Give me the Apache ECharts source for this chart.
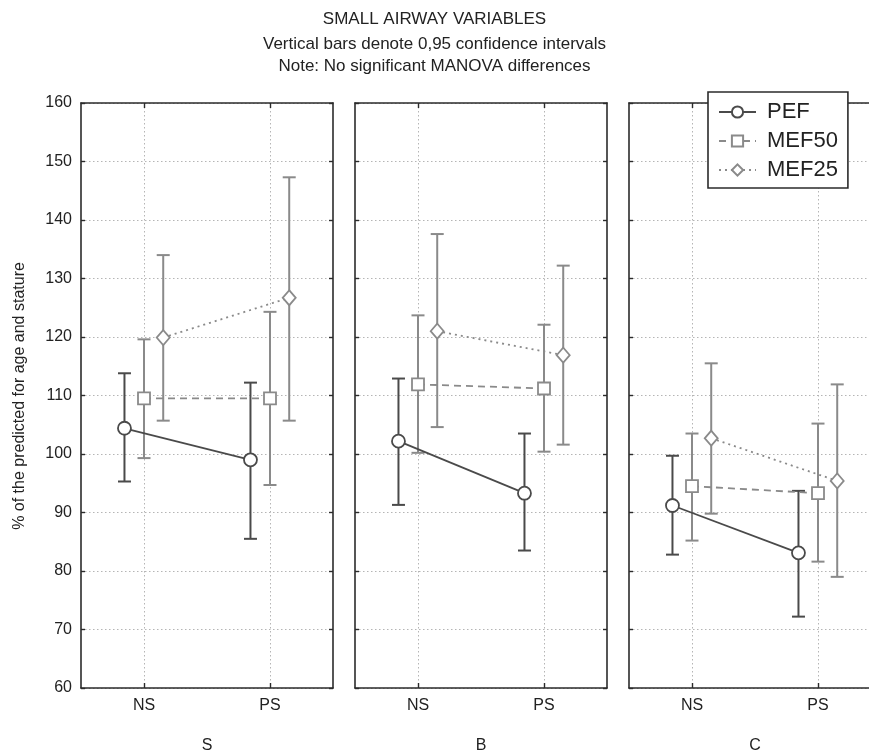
<!DOCTYPE html>
<html><head><meta charset="utf-8">
<script src="https://cdn.jsdelivr.net/npm/echarts@6/dist/echarts.min.js"></script>
<style>html,body{margin:0;padding:0;background:#fff;overflow:hidden}#c{width:869px;height:755px}</style>
</head><body><div id="c"></div>
<script>
// ---- data ----
const groups = ['S', 'B', 'C'];
const categories = ['NS', 'PS'];
const measures = ['PEF', 'MEF50', 'MEF25'];
const titleLines = ['SMALL AIRWAY VARIABLES', 'Vertical bars denote 0,95 confidence intervals', 'Note: No significant MANOVA differences'];
const yName = '% of the predicted for age and stature';
const yMin = 60, yMax = 160, yStep = 10;

// [group][category]
const pefMean  = [[104.4, 99.0], [102.2, 93.3], [91.2, 83.1]];
const pefLow   = [[95.3, 85.5], [91.3, 83.5], [82.8, 72.2]];
const pefHigh  = [[113.8, 112.2], [112.9, 103.5], [99.7, 93.7]];

const mef50Mean = [[109.5, 109.5], [111.9, 111.2], [94.5, 93.3]];
const mef50Low  = [[99.3, 94.7], [100.2, 100.4], [85.2, 81.6]];
const mef50High = [[119.6, 124.3], [123.7, 122.1], [103.5, 105.2]];

const mef25Mean = [[119.9, 126.7], [121.0, 116.9], [102.7, 95.4]];
const mef25Low  = [[105.7, 105.7], [104.6, 101.6], [89.8, 79.0]];
const mef25High = [[134.0, 147.3], [137.6, 132.2], [115.5, 111.9]];

// ---- styling / layout ----
const FONT = 'Liberation Sans';
const gridLefts = [81, 355, 629];
const gridWidth = 252;
const gridTop = 103, gridHeight = 585;
const catPos = [1, 3];               // positions of NS / PS on the 0..4 data axis
const offsets = [-0.31, 0, 0.305];   // horizontal dodge per measure
const dark = '#4a4a4a', grey = '#8a8a8a';
const measureStyle = [
  {symbol: 'circle', size: 13, color: dark, line: 'solid'},
  {symbol: 'rect', size: 12, color: grey, line: [7, 5]},
  {symbol: 'diamond', size: [13, 15], color: grey, line: [2, 4]}
];
const means = [pefMean, mef50Mean, mef25Mean];
const lows = [pefLow, mef50Low, mef25Low];
const highs = [pefHigh, mef50High, mef25High];

// padded category slots so that NS / PS sit at 25% / 75%
const slots = ['', categories[0], '', categories[1], ''];
const showSlot = (i) => i === 1 || i === 3;

const grids = [], xAxes = [], yAxes = [], series = [];
const frame = {show: true, lineStyle: {color: '#2b2b2b', width: 1.6}};
const dotted = {show: true, lineStyle: {color: '#b5b5b5', type: [1.5, 2.5], width: 1}};

groups.forEach((g, gi) => {
  grids.push({left: gridLefts[gi], top: gridTop, width: gridWidth, height: gridHeight,
              containLabel: false, outerBoundsMode: 'none'});
  xAxes.push({
    type: 'category', gridIndex: gi, position: 'bottom', data: slots, boundaryGap: false,
    axisLine: frame,
    axisTick: {show: true, inside: true, length: 5, interval: showSlot, lineStyle: {color: '#2b2b2b', width: 1.4}},
    axisLabel: {show: true, interval: showSlot, color: '#222', fontSize: 16, fontFamily: FONT, margin: 10},
    splitLine: {show: true, interval: showSlot, lineStyle: dotted.lineStyle},
    name: g, nameLocation: 'middle', nameGap: 50,
    nameTextStyle: {color: '#222', fontSize: 16, fontFamily: FONT}
  });
  xAxes.push({
    type: 'category', gridIndex: gi, position: 'top', data: slots, boundaryGap: false,
    axisLine: frame,
    axisTick: {show: true, inside: true, length: 5, interval: showSlot, lineStyle: {color: '#2b2b2b', width: 1.4}},
    axisLabel: {show: false}, splitLine: {show: false}
  });
  xAxes.push({type: 'value', gridIndex: gi, min: 0, max: 4, show: false});
  yAxes.push({
    type: 'value', gridIndex: gi, position: 'left', min: yMin, max: yMax, interval: yStep,
    axisLine: frame,
    axisTick: {show: true, inside: true, length: 4, lineStyle: {color: '#2b2b2b', width: 1.4}},
    axisLabel: {show: gi === 0, color: '#222', fontSize: 16, fontFamily: FONT, margin: 9},
    splitLine: dotted
  });
  yAxes.push({
    type: 'value', gridIndex: gi, position: 'right', min: yMin, max: yMax, interval: yStep,
    axisLine: frame,
    axisTick: {show: true, inside: true, length: 4, lineStyle: {color: '#2b2b2b', width: 1.4}},
    axisLabel: {show: false}, splitLine: {show: false}
  });

  measures.forEach((m, mi) => {
    const st = measureStyle[mi];
    const pts = categories.map((c, ci) => [catPos[ci] + offsets[mi], means[mi][gi][ci]]);
    const bars = categories.map((c, ci) => [catPos[ci] + offsets[mi], lows[mi][gi][ci], highs[mi][gi][ci]]);
    series.push({
      type: 'custom', name: m + ' CI', xAxisIndex: gi * 3 + 2, yAxisIndex: gi * 2, z: 2,
      data: bars, encode: {x: 0, y: [1, 2]}, silent: true, clip: false,
      renderItem: function (params, api) {
        const x = api.value(0);
        const top = api.coord([x, api.value(2)]);
        const bot = api.coord([x, api.value(1)]);
        const w = 6.5;
        const style = {stroke: st.color, lineWidth: 2, fill: null};
        return {type: 'group', children: [
          {type: 'line', shape: {x1: top[0], y1: top[1], x2: bot[0], y2: bot[1]}, style: style},
          {type: 'line', shape: {x1: top[0] - w, y1: top[1], x2: top[0] + w, y2: top[1]}, style: style},
          {type: 'line', shape: {x1: bot[0] - w, y1: bot[1], x2: bot[0] + w, y2: bot[1]}, style: style}
        ]};
      }
    });
    series.push({
      type: 'line', name: m, xAxisIndex: gi * 3 + 2, yAxisIndex: gi * 2, z: 3,
      data: pts, symbol: st.symbol, symbolSize: st.size, showSymbol: true,
      lineStyle: {color: st.color, width: 1.8, type: st.line},
      itemStyle: {color: '#fff', borderColor: st.color, borderWidth: 1.8},
      emphasis: {disabled: true}, animation: false
    });
  });
});

const titleTops = [11, 36, 58];
const chart = echarts.init(document.getElementById('c'), null, {renderer: 'canvas'});
chart.setOption({
  animation: false,
  backgroundColor: '#fff',
  textStyle: {fontFamily: FONT},
  title: titleLines.map((t, i) => ({
    text: t, left: 'center', top: titleTops[i], padding: 0,
    textStyle: {fontSize: 17, fontWeight: 'normal', color: '#222', fontFamily: FONT}
  })),
  legend: {
    data: measures, orient: 'vertical', left: 708, top: 92, z: 10,
    backgroundColor: '#fff', borderColor: '#2b2b2b', borderWidth: 1.6,
    padding: [9, 10, 7, 10], itemWidth: 37, itemHeight: 14, itemGap: 7,
    textStyle: {fontSize: 22, color: '#222', fontFamily: FONT, padding: [0, 0, 0, 6]}
  },
  grid: grids, xAxis: xAxes, yAxis: yAxes, series: series,
  graphic: [{
    type: 'text', z: 5, x: 20, y: 396, rotation: Math.PI / 2,
    style: {text: yName, fontSize: 16, fill: '#222', fontFamily: FONT,
            textAlign: 'center', textVerticalAlign: 'middle'}
  }]
});
</script>
</body></html>
